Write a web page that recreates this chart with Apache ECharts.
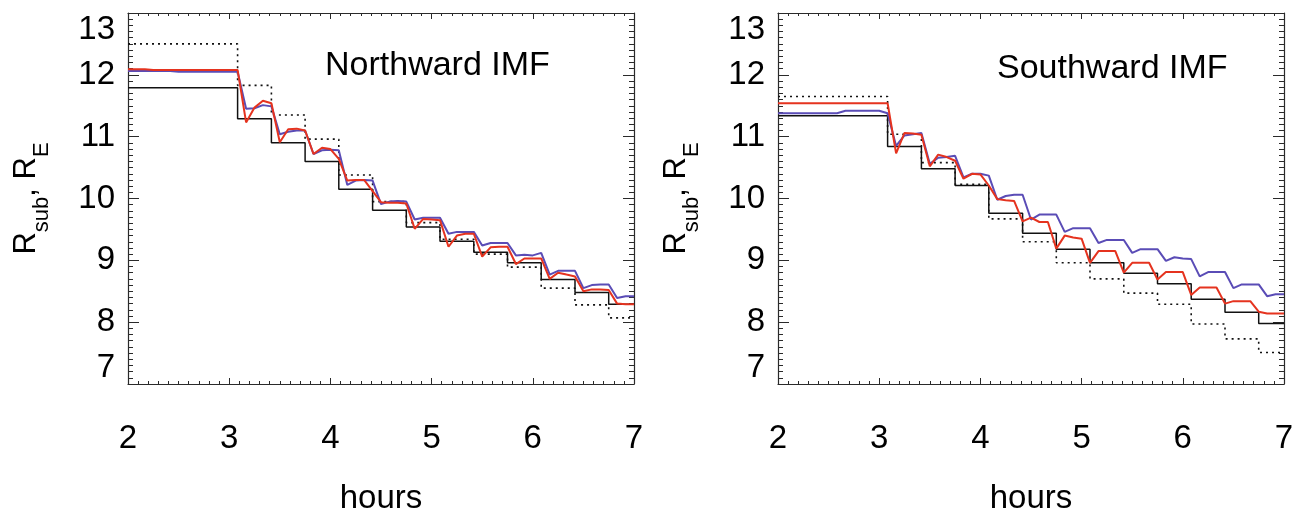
<!DOCTYPE html>
<html>
<head>
<meta charset="utf-8">
<script src="https://cdn.jsdelivr.net/npm/echarts@6/dist/echarts.min.js"></script>
<style>
html,body{margin:0;padding:0;background:#fff;}
#chart{width:1309px;height:514px;}
</style>
</head>
<body>
<div id="chart"></div>
<script>
// ---- data ----
const panelTitles = ['Northward IMF', 'Southward IMF'];
const xTickLabels = ['2', '3', '4', '5', '6', '7'];
const yTickLabels = ['7', '8', '9', '10', '11', '12', '13'];

// step change times (hours); last entry is the end of the plot
const stepTimes = [2, 3.083, 3.417, 3.75, 4.083, 4.417, 4.75, 5.083, 5.417, 5.75, 6.083, 6.417, 6.75, 7];

const northSolid  = [11.79, 11.29, 10.90, 10.60, 10.15, 9.81, 9.54, 9.31, 9.13, 8.96, 8.69, 8.48, 8.29];
const northDotted = [12.50, 11.83, 11.35, 10.96, 10.38, 9.95, 9.61, 9.34, 9.10, 8.89, 8.55, 8.28, 8.07];
const southSolid  = [11.34, 10.84, 10.48, 10.21, 9.76, 9.44, 9.18, 8.96, 8.79, 8.62, 8.37, 8.16, 7.98];
const southDotted = [11.65, 11.04, 10.58, 10.23, 9.67, 9.30, 8.96, 8.70, 8.47, 8.29, 7.97, 7.73, 7.51];

// sample times for the simulated curves (hours)
const sampleTimes = [2, 2.083, 2.167, 2.25, 2.333, 2.417, 2.5, 2.583, 2.667, 2.75, 2.833, 2.917, 3,
  3.083, 3.167, 3.25, 3.333, 3.417, 3.5, 3.583, 3.667, 3.75, 3.833, 3.917, 4,
  4.083, 4.167, 4.25, 4.333, 4.417, 4.5, 4.583, 4.667, 4.75, 4.833, 4.917, 5,
  5.083, 5.167, 5.25, 5.333, 5.417, 5.5, 5.583, 5.667, 5.75, 5.833, 5.917, 6,
  6.083, 6.167, 6.25, 6.333, 6.417, 6.5, 6.583, 6.667, 6.75, 6.833, 6.917, 7];

const northBlue = [12.06, 12.06, 12.06, 12.06, 12.06, 12.06, 12.05, 12.05, 12.05, 12.05, 12.05, 12.05, 12.05, 12.05,
  11.45, 11.46, 11.51, 11.49, 11.04, 11.08, 11.10, 11.10, 10.72, 10.78, 10.79, 10.78,
  10.22, 10.29, 10.30, 10.29, 9.91, 9.95, 9.96, 9.95, 9.66, 9.69, 9.69, 9.69,
  9.43, 9.46, 9.46, 9.46, 9.24, 9.28, 9.28, 9.28, 9.08, 9.09, 9.08, 9.12,
  8.77, 8.83, 8.83, 8.83, 8.55, 8.60, 8.61, 8.61, 8.39, 8.42, 8.42];

const northRed = [12.09, 12.09, 12.09, 12.08, 12.08, 12.08, 12.08, 12.08, 12.08, 12.08, 12.08, 12.08, 12.08, 12.08,
  11.23, 11.47, 11.58, 11.54, 10.91, 11.12, 11.13, 11.10, 10.72, 10.82, 10.80, 10.64,
  10.29, 10.30, 10.30, 10.12, 9.94, 9.93, 9.93, 9.92, 9.51, 9.67, 9.66, 9.65,
  9.22, 9.40, 9.43, 9.43, 9.06, 9.21, 9.22, 9.22, 8.94, 9.03, 9.03, 9.03,
  8.70, 8.80, 8.77, 8.74, 8.50, 8.53, 8.53, 8.52, 8.30, 8.29, 8.29];

const southBlue = [11.38, 11.38, 11.38, 11.38, 11.38, 11.38, 11.38, 11.38, 11.42, 11.42, 11.42, 11.42, 11.42, 11.38,
  10.85, 11.02, 11.04, 11.06, 10.56, 10.66, 10.67, 10.69, 10.34, 10.40, 10.40, 10.37,
  9.98, 10.04, 10.06, 10.06, 9.66, 9.74, 9.74, 9.74, 9.46, 9.52, 9.52, 9.52,
  9.28, 9.33, 9.33, 9.33, 9.12, 9.18, 9.18, 9.18, 8.99, 9.05, 9.03, 9.02,
  8.74, 8.81, 8.81, 8.81, 8.55, 8.61, 8.61, 8.61, 8.42, 8.45, 8.45];

const southRed = [11.54, 11.54, 11.54, 11.54, 11.54, 11.54, 11.54, 11.54, 11.54, 11.54, 11.54, 11.54, 11.54, 11.54,
  10.73, 11.06, 11.05, 11.03, 10.52, 10.71, 10.67, 10.61, 10.32, 10.40, 10.39, 10.21,
  9.99, 9.97, 9.96, 9.63, 9.69, 9.62, 9.62, 9.19, 9.40, 9.37, 9.35, 8.96,
  9.15, 9.15, 9.15, 8.80, 8.96, 8.96, 8.96, 8.69, 8.81, 8.81, 8.81, 8.44,
  8.56, 8.56, 8.56, 8.30, 8.34, 8.34, 8.34, 8.17, 8.14, 8.14, 8.14];

// ---- build ----
const FONT = "'Liberation Sans', Arial, Helvetica, sans-serif";
const AX = '#2a2a2a';
const BLUE = '#5a4cb6';
const RED = '#e5331f';
const BLACK = '#111111';

function stepPairs(vals) {
  const out = stepTimes.slice(0, vals.length).map((t, i) => [t, vals[i]]);
  out.push([stepTimes[stepTimes.length - 1], vals[vals.length - 1]]);
  return out;
}
function samplePairs(vals) { return sampleTimes.map((t, i) => [t, vals[i]]); }

const panels = [
  { left: 128, solid: northSolid, dotted: northDotted, blue: northBlue, red: northRed, titleLeft: 320, titleTop: 44 },
  { left: 778, solid: southSolid, dotted: southDotted, blue: southBlue, red: southRed, titleLeft: 992, titleTop: 47 }
];

const grid = [], xAxis = [], yAxis = [], series = [], title = [];
const xMin = +xTickLabels[0], xMax = +xTickLabels[xTickLabels.length - 1];
const yMin = +yTickLabels[0], yMax = +yTickLabels[yTickLabels.length - 1];

panels.forEach((p, i) => {
  grid.push({ left: p.left, top: 13, width: 506, height: 371, show: false,
    containLabel: false, outerBoundsMode: 'none' });
  title.push({ text: panelTitles[i], left: p.titleLeft, top: p.titleTop,
    textStyle: { fontFamily: FONT, fontSize: 34, fontWeight: 'normal', color: '#000' } });
  const xCommon = {
    type: 'value', gridIndex: i, min: xMin, max: xMax, interval: 1,
    axisLine: { show: true, lineStyle: { color: AX, width: 1.2 } },
    axisTick: { show: true, inside: true, length: 6, lineStyle: { color: AX, width: 1 } },
    minorTick: { show: true, splitNumber: 10, length: 3, lineStyle: { color: AX, width: 1 } },
    splitLine: { show: false }, minorSplitLine: { show: false }
  };
  xAxis.push(Object.assign({}, xCommon, {
    position: 'bottom',
    axisLabel: { show: true, margin: 38, fontFamily: FONT, fontSize: 33, color: '#000',
      formatter: v => xTickLabels.indexOf(String(v)) >= 0 ? String(v) : '' },
    name: 'hours', nameLocation: 'middle', nameGap: 98,
    nameTextStyle: { fontFamily: FONT, fontSize: 33, color: '#000' }
  }));
  xAxis.push(Object.assign({}, xCommon, { position: 'top', axisLabel: { show: false } }));
  const yCommon = {
    type: 'value', gridIndex: i, min: yMin, max: yMax, interval: 1,
    axisLine: { show: true, lineStyle: { color: AX, width: 1.2 } },
    axisTick: { show: true, inside: true, length: 11, lineStyle: { color: AX, width: 1 } },
    minorTick: { show: true, splitNumber: 10, length: 5, lineStyle: { color: AX, width: 1 } },
    splitLine: { show: false }, minorSplitLine: { show: false }
  };
  yAxis.push(Object.assign({}, yCommon, {
    position: 'left',
    axisLabel: { show: true, margin: 13, fontFamily: FONT, fontSize: 33, color: '#000',
      verticalAlignMinLabel: 'bottom', verticalAlignMaxLabel: 'top',
      formatter: v => yTickLabels.indexOf(String(v)) >= 0 ? String(v) : '' },
    name: '{r|R}{s|sub}{r|, R}{s|E}', nameLocation: 'middle', nameGap: 86, nameRotate: 90,
    nameTextStyle: {
      fontFamily: FONT, color: '#000',
      rich: {
        r: { fontFamily: FONT, fontSize: 31, lineHeight: 31, verticalAlign: 'top', color: '#000' },
        s: { fontFamily: FONT, fontSize: 22, lineHeight: 22, verticalAlign: 'top', padding: [20, 0, 0, 0], color: '#000' }
      }
    }
  }));
  yAxis.push(Object.assign({}, yCommon, { position: 'right', axisLabel: { show: false } }));

  const xi = i * 2, yi = i * 2;
  series.push({ type: 'line', xAxisIndex: xi, yAxisIndex: yi, step: 'end', showSymbol: false, symbol: 'none',
    data: stepPairs(p.solid), lineStyle: { color: BLACK, width: 1.5 }, z: 2 });
  series.push({ type: 'line', xAxisIndex: xi, yAxisIndex: yi, step: 'end', showSymbol: false, symbol: 'none',
    data: stepPairs(p.dotted), lineStyle: { color: BLACK, width: 1.6, type: [2, 4] }, z: 2 });
  series.push({ type: 'line', xAxisIndex: xi, yAxisIndex: yi, showSymbol: false, symbol: 'none',
    data: samplePairs(p.blue), lineStyle: { color: BLUE, width: 2 }, z: 3 });
  series.push({ type: 'line', xAxisIndex: xi, yAxisIndex: yi, showSymbol: false, symbol: 'none',
    data: samplePairs(p.red), lineStyle: { color: RED, width: 2 }, z: 4 });
});

const chart = echarts.init(document.getElementById('chart'), null, { renderer: 'canvas' });
chart.setOption({
  animation: false,
  backgroundColor: '#ffffff',
  title, grid, xAxis, yAxis, series
});
</script>
</body>
</html>
